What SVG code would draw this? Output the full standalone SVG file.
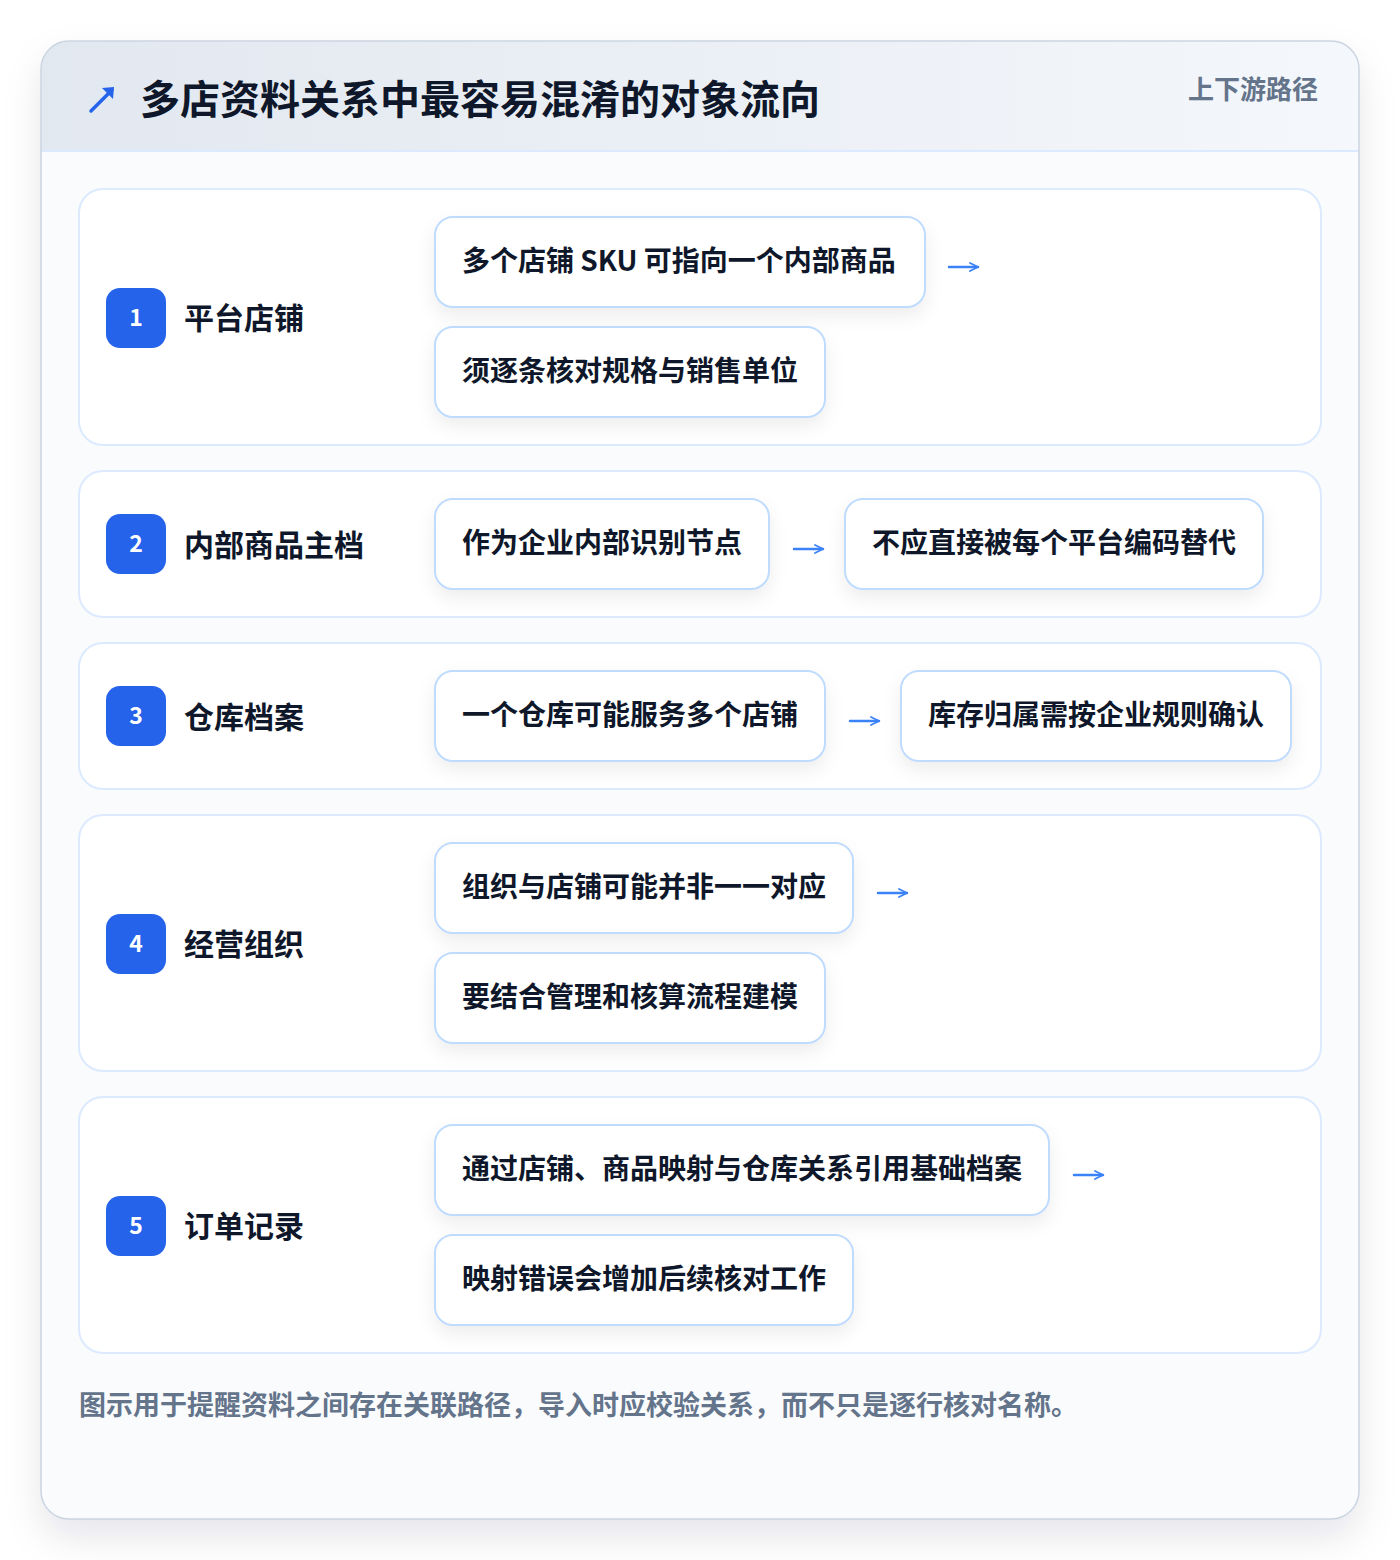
<svg xmlns="http://www.w3.org/2000/svg" width="1400" height="1560" viewBox="0 0 1400 1560">
<defs>
<filter id="cardShadow" x="-10%" y="-10%" width="120%" height="120%">
<feDropShadow dx="0" dy="18" stdDeviation="18" flood-color="#0f172a" flood-opacity="0.10"/>
</filter>
<filter id="chipShadow" x="-10%" y="-20%" width="130%" height="160%">
<feDropShadow dx="0" dy="8" stdDeviation="9" flood-color="#0f172a" flood-opacity="0.07"/>
</filter>
<linearGradient id="headGrad" x1="0" y1="0" x2="1" y2="0">
<stop offset="0" stop-color="#e2e8f0"/>
<stop offset="1" stop-color="#f4f7fb"/>
</linearGradient>
<clipPath id="cardClip"><rect x="41" y="41" width="1318" height="1478" rx="28"/></clipPath>
<marker id="ah" viewBox="0 0 10 10" refX="9" refY="5" markerWidth="10" markerHeight="10" markerUnits="userSpaceOnUse" orient="auto">
<path d="M1 1 L9 5 L1 9" fill="none" stroke="#3b82f6" stroke-width="1.8" stroke-linecap="round"/>
</marker>
</defs>
<style>
.t{font-family:"Noto Sans CJK SC","Noto Sans",sans-serif;font-weight:700}
.title{font-size:40px;fill:#0f172a}
.tag{font-size:26px;fill:#64748b}
.row{fill:#ffffff;stroke:#dbeafe;stroke-width:2}
.badge{fill:#2563eb}
.num{font-size:23px;fill:#ffffff}
.lbl{font-size:30px;fill:#0f172a}
.chip{fill:#ffffff;stroke:#bfdbfe;stroke-width:2}
.ct{font-size:28px;fill:#0f172a}
.foot{font-size:27px;fill:#64748b}
.arr{stroke:#3b82f6;stroke-width:2.5;fill:none;stroke-linecap:round}
</style>
<rect width="1400" height="1560" fill="#ffffff"/>
<g id="card">
<rect x="41" y="41" width="1318" height="1478" rx="28" fill="#f8fafc" filter="url(#cardShadow)"/>
<g clip-path="url(#cardClip)">
<rect x="41" y="41" width="1318" height="110" fill="url(#headGrad)"/>
<rect x="41" y="151" width="1318" height="1368" fill="#f9fbfd"/>
<line x1="41" y1="151" x2="1359" y2="151" stroke="#dbeafe" stroke-width="2"/>
</g>
<rect x="41" y="41" width="1318" height="1478" rx="28" fill="none" stroke="#cbd5e1" stroke-width="1.5"/>
</g>
<g id="header">
<path d="M91 111 L112 90" stroke="#2563eb" stroke-width="3.5" stroke-linecap="round"/>
<path d="M102 88 L114 87 L113 99 Z" fill="#2563eb"/>
<text class="t title" x="140" y="114">多店资料关系中最容易混淆的对象流向</text>
<text class="t tag" x="1318" y="99" text-anchor="end">上下游路径</text>
</g>
<g id="row1">
<rect class="row" x="79" y="189" width="1242" height="256" rx="24"/>
<rect class="badge" x="106" y="288" width="60" height="60" rx="14"/>
<text class="t num" x="136" y="326" text-anchor="middle">1</text>
<text class="t lbl" x="184" y="329">平台店铺</text>
</g>
<g id="n1a"><rect class="chip" x="435" y="217" width="490" height="90" rx="18" filter="url(#chipShadow)"/><text class="t ct" x="462" y="271">多个店铺 SKU 可指向一个内部商品</text></g>
<g id="n1b"><rect class="chip" x="435" y="327" width="390" height="90" rx="18" filter="url(#chipShadow)"/><text class="t ct" x="462" y="381">须逐条核对规格与销售单位</text></g>
<g id="row2">
<rect class="row" x="79" y="471" width="1242" height="146" rx="24"/>
<rect class="badge" x="106" y="514" width="60" height="60" rx="14"/>
<text class="t num" x="136" y="552" text-anchor="middle">2</text>
<text class="t lbl" x="184" y="556">内部商品主档</text>
</g>
<g id="n2a"><rect class="chip" x="435" y="499" width="334" height="90" rx="18" filter="url(#chipShadow)"/><text class="t ct" x="462" y="553">作为企业内部识别节点</text></g>
<g id="n2b"><rect class="chip" x="845" y="499" width="418" height="90" rx="18" filter="url(#chipShadow)"/><text class="t ct" x="872" y="553">不应直接被每个平台编码替代</text></g>
<g id="row3">
<rect class="row" x="79" y="643" width="1242" height="146" rx="24"/>
<rect class="badge" x="106" y="686" width="60" height="60" rx="14"/>
<text class="t num" x="136" y="724" text-anchor="middle">3</text>
<text class="t lbl" x="184" y="728">仓库档案</text>
</g>
<g id="n3a"><rect class="chip" x="435" y="671" width="390" height="90" rx="18" filter="url(#chipShadow)"/><text class="t ct" x="462" y="725">一个仓库可能服务多个店铺</text></g>
<g id="n3b"><rect class="chip" x="901" y="671" width="390" height="90" rx="18" filter="url(#chipShadow)"/><text class="t ct" x="928" y="725">库存归属需按企业规则确认</text></g>
<g id="row4">
<rect class="row" x="79" y="815" width="1242" height="256" rx="24"/>
<rect class="badge" x="106" y="914" width="60" height="60" rx="14"/>
<text class="t num" x="136" y="952" text-anchor="middle">4</text>
<text class="t lbl" x="184" y="955">经营组织</text>
</g>
<g id="n4a"><rect class="chip" x="435" y="843" width="418" height="90" rx="18" filter="url(#chipShadow)"/><text class="t ct" x="462" y="897">组织与店铺可能并非一一对应</text></g>
<g id="n4b"><rect class="chip" x="435" y="953" width="390" height="90" rx="18" filter="url(#chipShadow)"/><text class="t ct" x="462" y="1007">要结合管理和核算流程建模</text></g>
<g id="row5">
<rect class="row" x="79" y="1097" width="1242" height="256" rx="24"/>
<rect class="badge" x="106" y="1196" width="60" height="60" rx="14"/>
<text class="t num" x="136" y="1234" text-anchor="middle">5</text>
<text class="t lbl" x="184" y="1237">订单记录</text>
</g>
<g id="n5a"><rect class="chip" x="435" y="1125" width="614" height="90" rx="18" filter="url(#chipShadow)"/><text class="t ct" x="462" y="1179">通过店铺、商品映射与仓库关系引用基础档案</text></g>
<g id="n5b"><rect class="chip" x="435" y="1235" width="418" height="90" rx="18" filter="url(#chipShadow)"/><text class="t ct" x="462" y="1289">映射错误会增加后续核对工作</text></g>
<g id="connectors">
<line class="arr" x1="949" y1="267" x2="978" y2="267" marker-end="url(#ah)"/>
<line class="arr" x1="794" y1="549" x2="823" y2="549" marker-end="url(#ah)"/>
<line class="arr" x1="850" y1="721" x2="879" y2="721" marker-end="url(#ah)"/>
<line class="arr" x1="878" y1="893" x2="907" y2="893" marker-end="url(#ah)"/>
<line class="arr" x1="1074" y1="1175" x2="1103" y2="1175" marker-end="url(#ah)"/>
</g>
<g id="footer">
<text class="t foot" x="79" y="1415">图示用于提醒资料之间存在关联路径，导入时应校验关系，而不只是逐行核对名称。</text>
</g>
</svg>
